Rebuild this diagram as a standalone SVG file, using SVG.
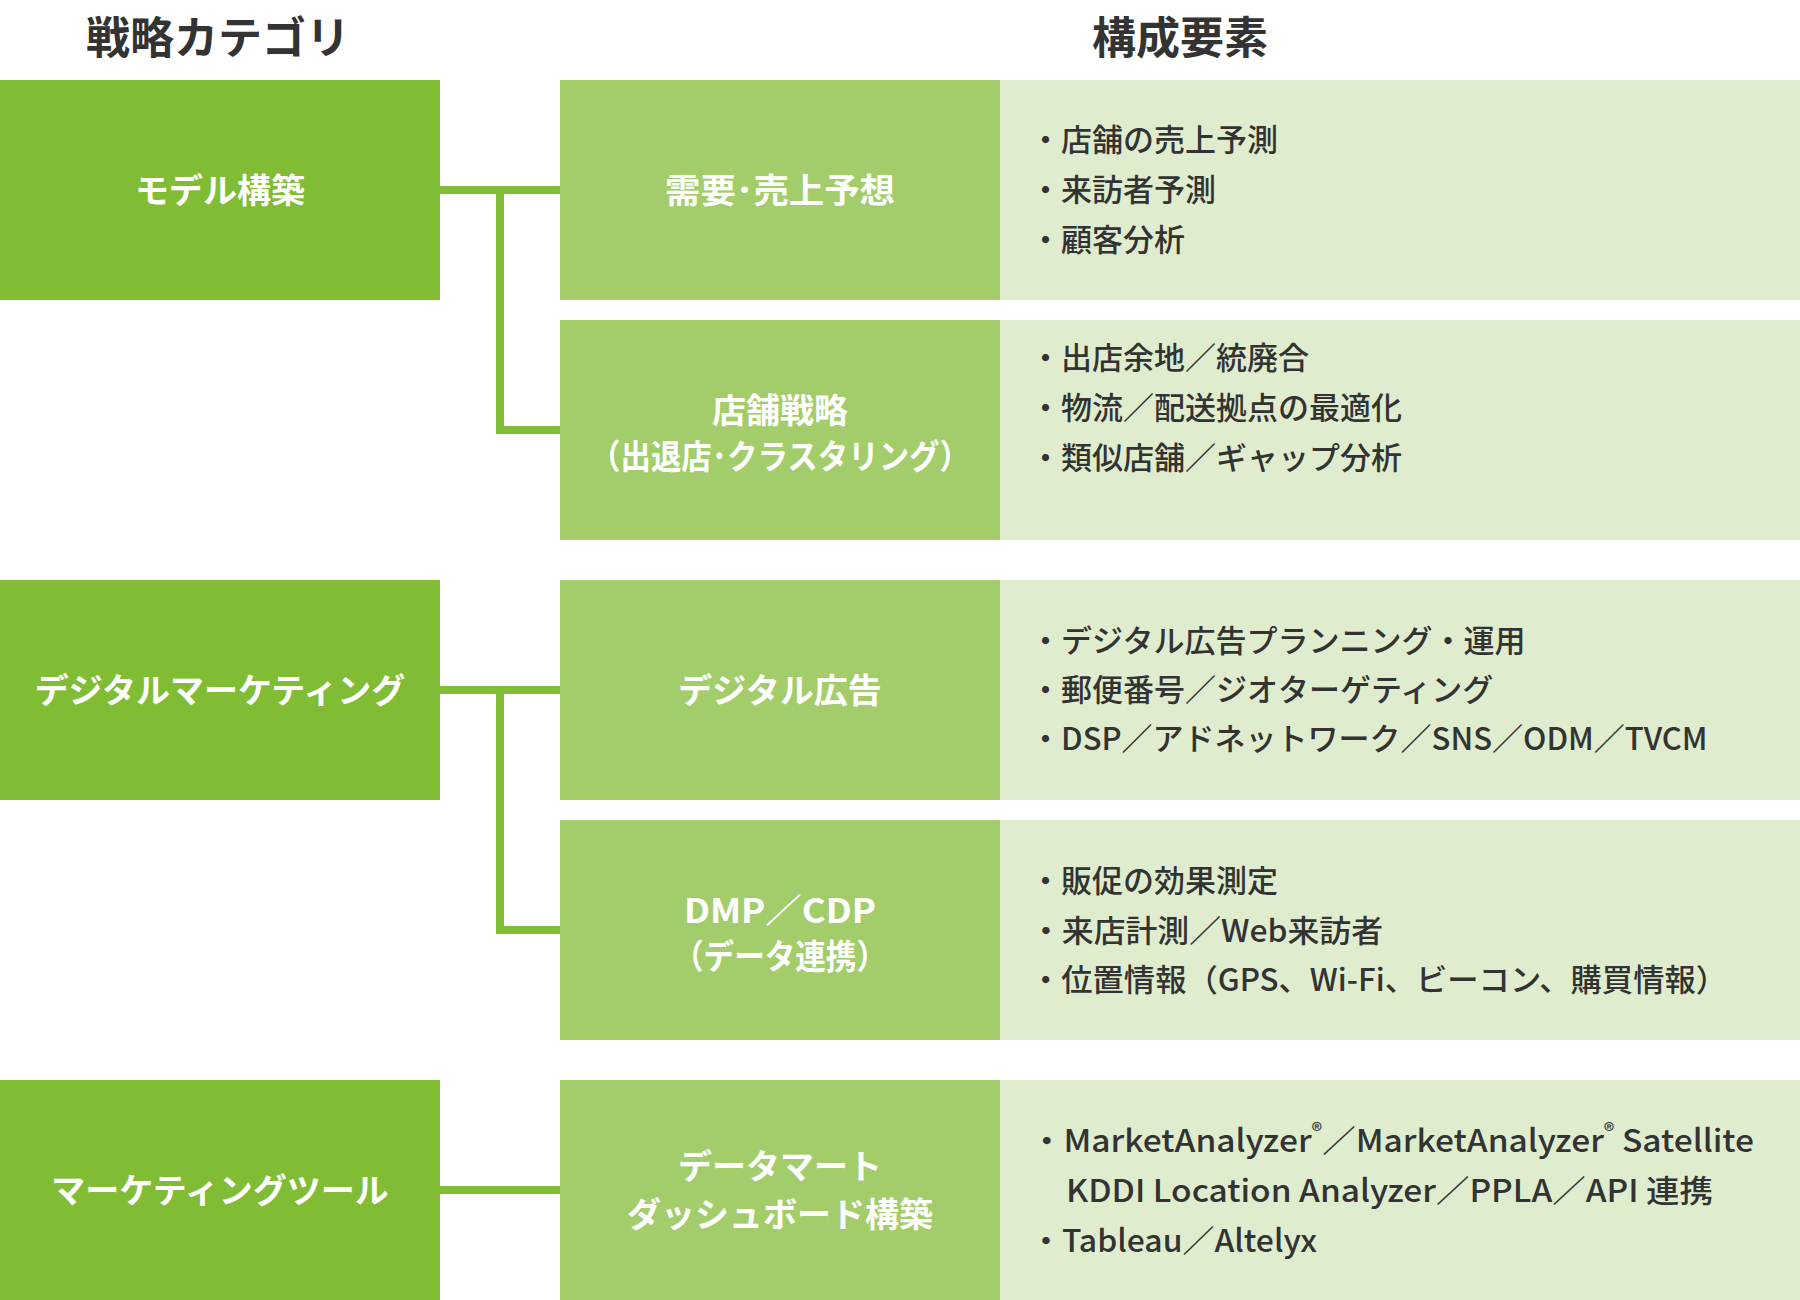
<svg xmlns="http://www.w3.org/2000/svg" width="1800" height="1300" viewBox="0 0 1800 1300">
<style>
text{font-family:"Noto Sans CJK JP","Noto Sans",sans-serif;dominant-baseline:central}
.hdr{font-size:44px;font-weight:700;fill:#333;text-anchor:middle}
.cat rect{fill:#80BC34}
.mid rect{fill:#A3CD6B}
.det rect{fill:#DFEDCE}
.cat text,.mid text{fill:#fff;font-weight:700;font-size:34px;text-anchor:middle}
.det text{fill:#333;font-weight:500;font-size:31px}
.con{fill:none;stroke:#80BC34;stroke-width:8}
.reg{font-size:20px}
</style>
<text class="hdr" x="218" y="35">戦略カテゴリ</text>
<text class="hdr" x="1180" y="35">構成要素</text>
<g id="connectors">
<path class="con" d="M440 190H560M500 186V430H560"/>
<path class="con" d="M440 690H560M500 686V930H560"/>
<path class="con" d="M440 1190H560"/>
</g>
<g id="cat-model" class="cat"><rect x="0" y="80" width="440" height="220"/><text x="220" y="188">モデル構築</text></g>
<g id="cat-digital" class="cat"><rect x="0" y="580" width="440" height="220"/><text x="220" y="688">デジタルマーケティング</text></g>
<g id="cat-tool" class="cat"><rect x="0" y="1080" width="440" height="220"/><text x="220" y="1188">マーケティングツール</text></g>
<g id="mid-demand" class="mid"><rect x="560" y="80" width="440" height="220"/><text x="780" y="188" textLength="230" lengthAdjust="spacingAndGlyphs">需要･売上予想</text></g>
<g id="mid-store" class="mid"><rect x="560" y="320" width="440" height="220"/><text x="780" y="408">店舗戦略</text><text x="780" y="454" textLength="380" lengthAdjust="spacingAndGlyphs">（出退店･クラスタリング）</text></g>
<g id="mid-ad" class="mid"><rect x="560" y="580" width="440" height="220"/><text x="780" y="688">デジタル広告</text></g>
<g id="mid-dmp" class="mid"><rect x="560" y="820" width="440" height="220"/><text x="780" y="908" textLength="192" lengthAdjust="spacingAndGlyphs">DMP／CDP</text><text x="780" y="954" textLength="214" lengthAdjust="spacingAndGlyphs">（データ連携）</text></g>
<g id="mid-dash" class="mid"><rect x="560" y="1080" width="440" height="220"/><text x="780" y="1164">データマート</text><text x="780" y="1212">ダッシュボード構築</text></g>
<g id="det-demand" class="det"><rect x="1000" y="80" width="800" height="220"/>
<text x="1030" y="137">・店舗の売上予測</text>
<text x="1030" y="187">・来訪者予測</text>
<text x="1030" y="237">・顧客分析</text></g>
<g id="det-store" class="det"><rect x="1000" y="320" width="800" height="220"/>
<text x="1030" y="355">・出店余地／統廃合</text>
<text x="1030" y="405">・物流／配送拠点の最適化</text>
<text x="1030" y="455">・類似店舗／ギャップ分析</text></g>
<g id="det-ad" class="det"><rect x="1000" y="580" width="800" height="220"/>
<text x="1030" y="638">・デジタル広告プランニング・運用</text>
<text x="1030" y="687">・郵便番号／ジオターゲティング</text>
<text x="1030" y="736">・DSP／アドネットワーク／SNS／ODM／TVCM</text></g>
<g id="det-dmp" class="det"><rect x="1000" y="820" width="800" height="220"/>
<text x="1030" y="878">・販促の効果測定</text>
<text x="1030" y="928" textLength="353" lengthAdjust="spacingAndGlyphs">・来店計測／Web来訪者</text>
<text x="1030" y="977" textLength="697" lengthAdjust="spacingAndGlyphs">・位置情報（GPS、Wi-Fi、ビーコン、購買情報）</text></g>
<g id="det-dash" class="det"><rect x="1000" y="1080" width="800" height="220"/>
<text x="1030" y="1138" textLength="724" lengthAdjust="spacingAndGlyphs">・MarketAnalyzer<tspan class="reg" dy="-9">®</tspan><tspan dy="9">／MarketAnalyzer</tspan><tspan class="reg" dy="-9">®</tspan><tspan dy="9"> Satellite</tspan></text>
<text x="1066" y="1188" textLength="647" lengthAdjust="spacingAndGlyphs">KDDI Location Analyzer／PPLA／API 連携</text>
<text x="1030" y="1238" textLength="287" lengthAdjust="spacingAndGlyphs">・Tableau／Altelyx</text></g>
</svg>
